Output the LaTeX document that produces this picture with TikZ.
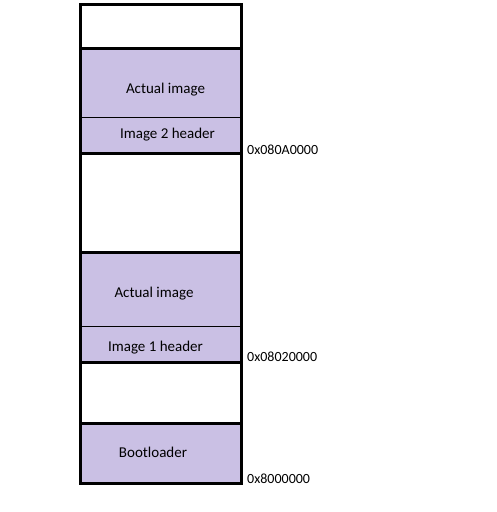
\documentclass[tikz,border=0pt]{standalone}
\usepackage{fontspec}
\setmainfont{Carlito}
\definecolor{imgfill}{RGB}{202,192,228}
\tikzset{
  seg/.style={fill=imgfill},
  label/.style={inner sep=0pt,anchor=mid,font=\fontsize{15}{17}\selectfont},
  addr/.style={inner sep=0pt,anchor=west}
}
\begin{document}
\begin{tikzpicture}[x=1pt,y=-1pt,font=\fontsize{14}{16}\selectfont]
\useasboundingbox (0,0) rectangle (496,512);
% filled segments
\fill[seg] (80,48) rectangle (241,153);
\fill[seg] (80,252) rectangle (241,362);
\fill[seg] (80,423) rectangle (241,483);
% thin header lines
\draw[line width=1pt] (80,117) -- (241,117);
\draw[line width=1pt] (80,326) -- (241,326);
% thick borders
\draw[line width=3pt] (80,48) -- (241,48) (80,153) -- (241,153)
  (80,252) -- (241,252) (80,362) -- (241,362) (80,423) -- (241,423);
\draw[line width=3pt] (80,4) rectangle (241,483);
% labels
\node[label] (act2) at (165.5,91) {Actual image};
\node[label] (hdr2) at (167.5,136) {Image 2 header};
\node[label] (act1) at (154,295) {Actual image};
\node[label] (hdr1) at (155.5,349) {Image 1 header};
\node[label] (boot) at (153,455) {Bootloader};
% addresses
\node[addr] (a2) at (247,150) {0x080A0000};
\node[addr] (a1) at (247,357) {0x08020000};
\node[addr] (a0) at (247,479) {0x8000000};
\end{tikzpicture}
\end{document}
